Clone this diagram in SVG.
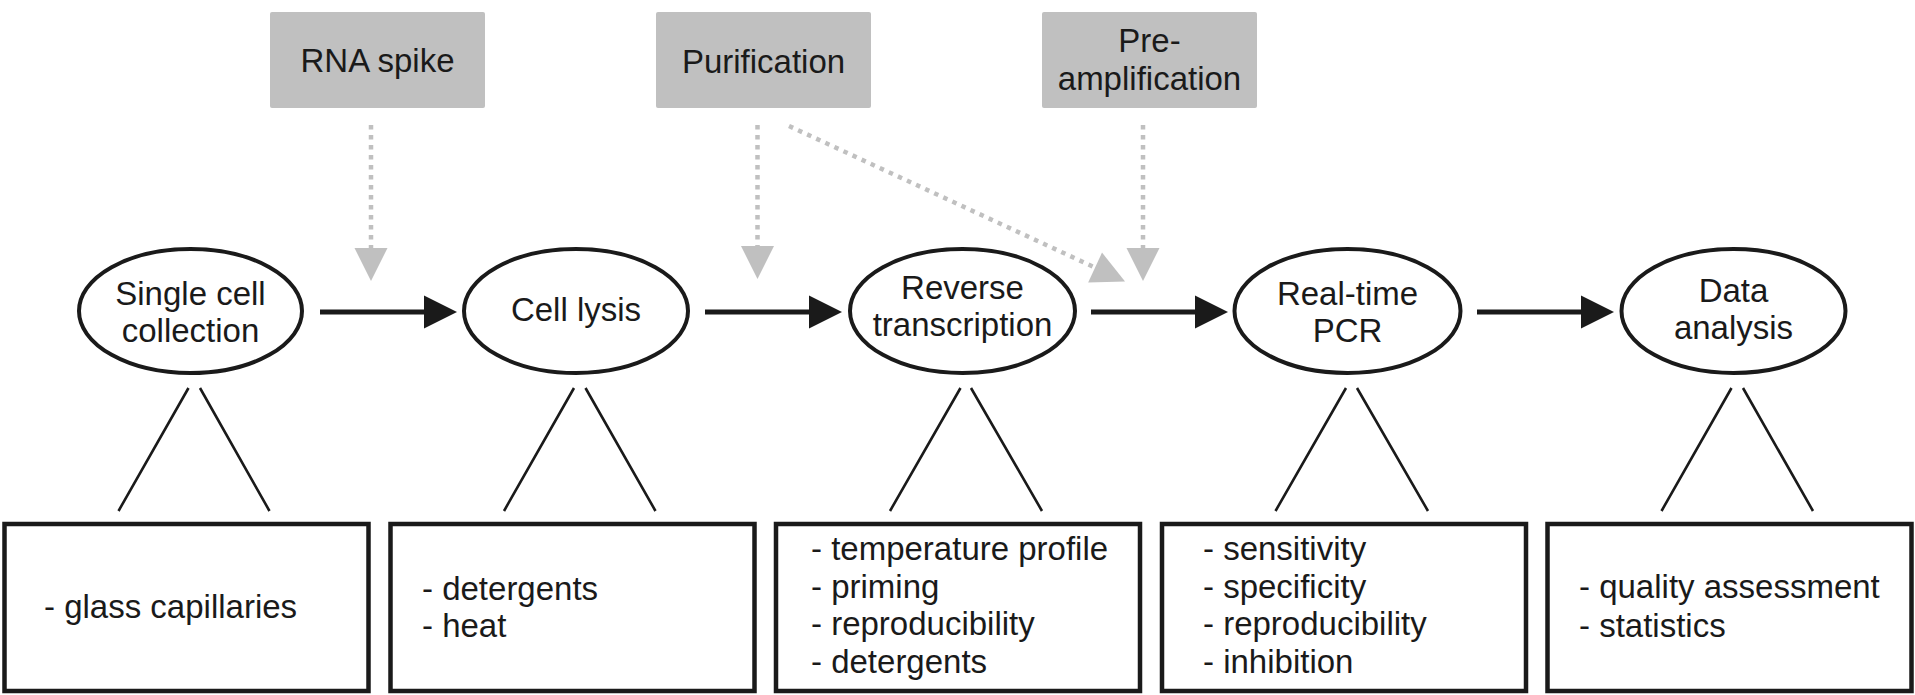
<svg xmlns="http://www.w3.org/2000/svg" width="1915" height="695" viewBox="0 0 1915 695">
<style>
text{font-family:"Liberation Sans",Arial,sans-serif;font-size:33px;fill:#1a1a1a}
.c{text-anchor:middle}
.gbox{fill:#c0c0c0}
.step{fill:#fff;stroke:#1a1a1a;stroke-width:4}
.det{fill:#fff;stroke:#1a1a1a;stroke-width:4.5}
.leg{stroke:#1a1a1a;stroke-width:2.6;fill:none}
.flow{stroke:#1a1a1a;stroke-width:5;fill:none;marker-end:url(#ah)}
.dot{stroke:#c0c0c0;stroke-width:4.5;stroke-dasharray:4.5 5.5;fill:none;marker-end:url(#gh)}
</style>
<defs>
<marker id="ah" markerUnits="userSpaceOnUse" markerWidth="34" markerHeight="34" refX="6" refY="16.5" orient="auto" overflow="visible"><path d="M0,0 L33,16.5 L0,33 z" fill="#1a1a1a"/></marker>
<marker id="gh" markerUnits="userSpaceOnUse" markerWidth="34" markerHeight="34" refX="1" refY="16.5" orient="auto" overflow="visible"><path d="M0,0 L33,16.5 L0,33 z" fill="#c0c0c0"/></marker>
</defs>
<rect width="1915" height="695" fill="#fff"/>
<g id="connectors">
<line class="flow" x1="320" y1="312" x2="430" y2="312"/>
<line class="flow" x1="705" y1="312" x2="815" y2="312"/>
<line class="flow" x1="1091" y1="312" x2="1201" y2="312"/>
<line class="flow" x1="1477" y1="312" x2="1587" y2="312"/>
<line class="dot" x1="371" y1="125" x2="371" y2="249"/>
<line class="dot" x1="757.5" y1="125" x2="757.5" y2="247"/>
<line class="dot" x1="1143" y1="125" x2="1143" y2="249"/>
<line class="dot" x1="789" y1="126" x2="1096" y2="268"/>
<path class="leg" d="M188.5,388 L118.5,511 M200,388 L269.5,511"/>
<path class="leg" d="M574,388 L504,511 M585.5,388 L655.5,511"/>
<path class="leg" d="M960.5,388 L890,511 M971,388 L1042,511"/>
<path class="leg" d="M1346,388 L1275.5,511 M1357,388 L1428,511"/>
<path class="leg" d="M1731.5,388 L1661.5,511 M1743,388 L1813,511"/>
</g>
<g id="rna-spike"><rect class="gbox" x="270" y="12" width="215" height="96" rx="2"/><text class="c" x="377.5" y="72">RNA spike</text></g>
<g id="purification"><rect class="gbox" x="656" y="12" width="215" height="96" rx="2"/><text class="c" x="763.5" y="73">Purification</text></g>
<g id="pre-amplification"><rect class="gbox" x="1042" y="12" width="215" height="96" rx="2"/><text class="c" x="1149.5" y="52">Pre-</text><text class="c" x="1149.5" y="90">amplification</text></g>
<g id="single-cell-collection"><ellipse class="step" cx="190.5" cy="311" rx="111.5" ry="62"/><text class="c" x="190.5" y="305">Single cell</text><text class="c" x="190.5" y="342">collection</text></g>
<g id="cell-lysis"><ellipse class="step" cx="576" cy="311" rx="112" ry="62"/><text class="c" x="576" y="321">Cell lysis</text></g>
<g id="reverse-transcription"><ellipse class="step" cx="962.5" cy="311" rx="112.5" ry="62"/><text class="c" x="962.5" y="299">Reverse</text><text class="c" x="962.5" y="336">transcription</text></g>
<g id="real-time-pcr"><ellipse class="step" cx="1347.5" cy="311" rx="113" ry="62"/><text class="c" x="1347.5" y="305">Real-time</text><text class="c" x="1347.5" y="342">PCR</text></g>
<g id="data-analysis"><ellipse class="step" cx="1733.5" cy="311" rx="112" ry="62"/><text class="c" x="1733.5" y="302">Data</text><text class="c" x="1733.5" y="339">analysis</text></g>
<g id="box-collection"><rect class="det" x="4.5" y="524" width="364" height="167"/><text x="44" y="618">- glass capillaries</text></g>
<g id="box-lysis"><rect class="det" x="390.5" y="524" width="364" height="167"/><text x="422" y="600">- detergents</text><text x="422" y="637">- heat</text></g>
<g id="box-rt"><rect class="det" x="776" y="524" width="364" height="167"/><text x="811" y="560">- temperature profile</text><text x="811" y="598">- priming</text><text x="811" y="635">- reproducibility</text><text x="811" y="673">- detergents</text></g>
<g id="box-pcr"><rect class="det" x="1162" y="524" width="364" height="167"/><text x="1203" y="560">- sensitivity</text><text x="1203" y="598">- specificity</text><text x="1203" y="635">- reproducibility</text><text x="1203" y="673">- inhibition</text></g>
<g id="box-analysis"><rect class="det" x="1547.5" y="524" width="364" height="167"/><text x="1579" y="598">- quality assessment</text><text x="1579" y="637">- statistics</text></g>
</svg>
